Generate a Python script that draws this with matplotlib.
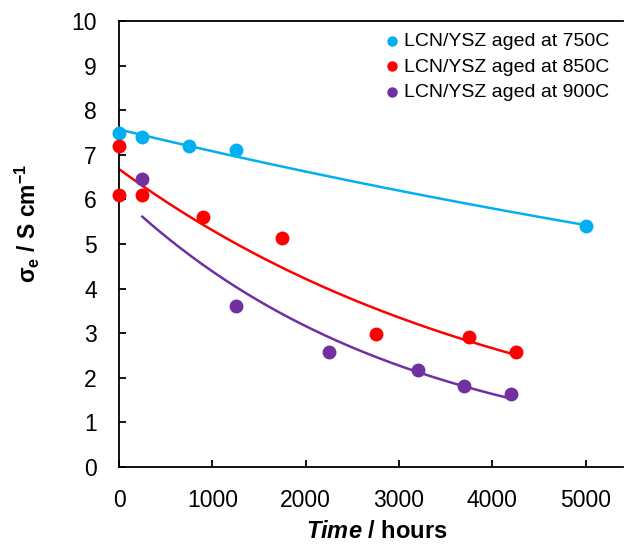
import numpy as np
import matplotlib
matplotlib.use('Agg')
import matplotlib.pyplot as plt

plt.rcParams['font.family'] = 'Liberation Sans'
plt.rcParams['mathtext.fontset'] = 'custom'
plt.rcParams['mathtext.rm'] = 'Liberation Sans:bold'
plt.rcParams['mathtext.bf'] = 'Liberation Sans:bold'
plt.rcParams['mathtext.it'] = 'Liberation Sans:bold:italic'

# ageing data: time (h) and electronic conductivity (S/cm)
labels = ['LCN/YSZ aged at 750C', 'LCN/YSZ aged at 850C', 'LCN/YSZ aged at 900C']
colors = ['#00B0F0', '#FF0000', '#7030A0']

t750 = [0, 250, 750, 1250, 5000]
s750 = [7.5, 7.4, 7.2, 7.1, 5.4]

t850 = [0, 0, 250, 900, 1750, 2750, 3750, 4250]
s850 = [7.2, 6.1, 6.1, 5.6, 5.13, 2.98, 2.92, 2.57]

t900 = [250, 1250, 2250, 3200, 3700, 4200]
s900 = [6.45, 3.6, 2.58, 2.18, 1.82, 1.64]

fig = plt.figure(figsize=(6.25, 5.45), dpi=100)
ax = fig.add_axes([0.1904, 0.1431, 0.8064, 0.8183])

for t, s, c, lab in zip([t750, t850, t900], [s750, s850, s900], colors, labels):
    t = np.array(t, dtype=float)
    s = np.array(s)
    # exponential trendline
    b, a = np.polyfit(t, np.log(s), 1)
    tt = np.linspace(t.min(), t.max(), 200)
    ax.plot(tt, np.exp(a + b * tt), color=c, lw=1.8, zorder=2)
    ax.scatter(t, s, s=100, color=c, label=lab, zorder=3, linewidths=0, clip_on=False)

ax.set_xlim(0, 5400)
ax.set_ylim(0, 10)
ax.set_xticks(range(0, 5001, 1000))
ax.set_yticks(range(0, 11))
ax.tick_params(direction='in', length=5, width=1.3, labelsize=16.5, pad=16)
ax.spines['right'].set_visible(False)
for side in ['left', 'bottom', 'top']:
    ax.spines[side].set_linewidth(1.3)

ax.set_xlabel(r'$\mathit{Time}$ / hours', fontsize=17, fontweight='bold')
ax.xaxis.label.set_va('center')
ax.xaxis.set_label_coords(0.511, -0.1435)

ax.set_ylabel(r'σ$_\mathbf{e}$ / S cm$^\mathbf{-1}$', fontsize=16.5, fontweight='bold')
ax.yaxis.label.set_va('center')
ax.yaxis.set_label_coords(-0.1825, 0.547)

ax.legend(loc='upper right', bbox_to_anchor=(0.972, 0.975), frameon=False,
          fontsize=14, handletextpad=0.3, handlelength=0.6, labelspacing=0.42,
          borderaxespad=0, borderpad=0, markerscale=0.75)

fig.savefig('out.png', dpi=100)
